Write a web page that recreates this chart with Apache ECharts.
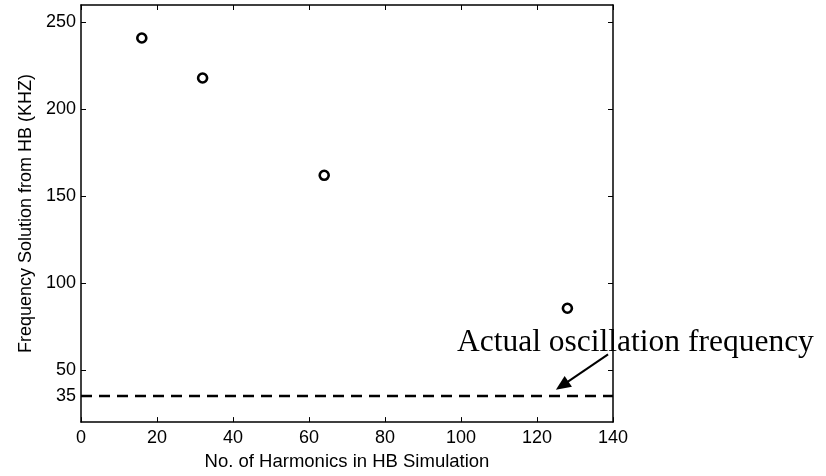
<!DOCTYPE html>
<html>
<head>
    <meta charset="utf-8">
    <title>HB frequency</title>
    <script src="https://cdn.jsdelivr.net/npm/echarts@6/dist/echarts.min.js"></script>
    <style>
        html, body { margin: 0; padding: 0; background: #fff; }
        #chart { width: 826px; height: 476px; }
    </style>
</head>
<body>
<div id="chart"></div>
<script>
    // data
    var harmonics = [16, 32, 64, 128];
    var freqHB = [241, 218, 162, 85.5];
    var actualFreq = 35;
    var xTicks = [0, 20, 40, 60, 80, 100, 120, 140];
    var yTicks = [35, 50, 100, 150, 200, 250];
    // arrow from the annotation text down to the dashed line (end = centre of the head)
    var arrowFrom = [138.7, 59];
    var arrowTo = [126.6, 41];

    var chart = echarts.init(document.getElementById('chart'));
    var sans = 'Liberation Sans, Arial, Helvetica, sans-serif';

    var points = harmonics.map(function (h, i) { return [h, freqHB[i]]; });
    var dashed = [[xTicks[0], actualFreq], [xTicks[xTicks.length - 1], actualFreq]];

    var axisLine = { show: true, onZero: false, lineStyle: { color: '#000', width: 1.5 } };
    var tick = { show: true, inside: true, length: 5, lineStyle: { color: '#000', width: 1 } };

    var option = {
        backgroundColor: '#fff',
        animation: false,
        grid: { left: 81, right: 213, top: 5, bottom: 50 },
        xAxis: [{
            type: 'value', min: 0, max: 140, interval: 20,
            position: 'bottom',
            name: 'No. of Harmonics in HB Simulation',
            nameLocation: 'middle', nameGap: 27,
            nameTextStyle: { fontFamily: sans, fontSize: 18.5, color: '#000' },
            axisLine: axisLine,
            axisTick: tick,
            axisLabel: { fontFamily: sans, fontSize: 18, color: '#000', margin: 7 },
            splitLine: { show: false }
        }, {
            type: 'value', min: 0, max: 140, interval: 20,
            position: 'top',
            axisLine: axisLine,
            axisTick: tick,
            axisLabel: { show: false },
            splitLine: { show: false }
        }],
        yAxis: [{
            type: 'value', min: 20, max: 260,
            position: 'left',
            name: 'Frequency Solution from HB (KHZ)',
            nameLocation: 'middle', nameGap: 46,
            nameTextStyle: { fontFamily: sans, fontSize: 18, color: '#000' },
            axisLine: axisLine,
            axisTick: Object.assign({ customValues: yTicks }, tick),
            axisLabel: { customValues: yTicks, fontFamily: sans, fontSize: 18, color: '#000', margin: 5 },
            splitLine: { show: false }
        }, {
            type: 'value', min: 20, max: 260,
            position: 'right',
            axisLine: axisLine,
            axisTick: Object.assign({ customValues: yTicks }, tick),
            axisLabel: { show: false },
            splitLine: { show: false }
        }],
        series: [{
            name: 'HB',
            type: 'scatter',
            data: points,
            symbol: 'circle',
            symbolSize: 9,
            itemStyle: { color: '#fff', borderColor: '#000', borderWidth: 2.6, opacity: 1 },
            z: 5
        }, {
            name: 'Actual',
            type: 'line',
            data: dashed,
            symbol: 'none',
            lineStyle: { color: '#000', width: 2.4, type: [11, 7] },
            markLine: {
                silent: true,
                symbol: ['none', 'triangle'],
                symbolSize: [13, 15],
                label: { show: false },
                lineStyle: { color: '#000', width: 2, type: 'solid' },
                data: [[{ coord: arrowFrom }, { coord: arrowTo }]]
            }
        }],
        graphic: [{
            type: 'text',
            left: 457,
            top: 327,
            style: {
                text: 'Actual oscillation frequency',
                font: '31.5px "Liberation Serif", "Times New Roman", serif',
                fill: '#000'
            },
            z: 10
        }]
    };
    chart.setOption(option);
</script>
</body>
</html>
